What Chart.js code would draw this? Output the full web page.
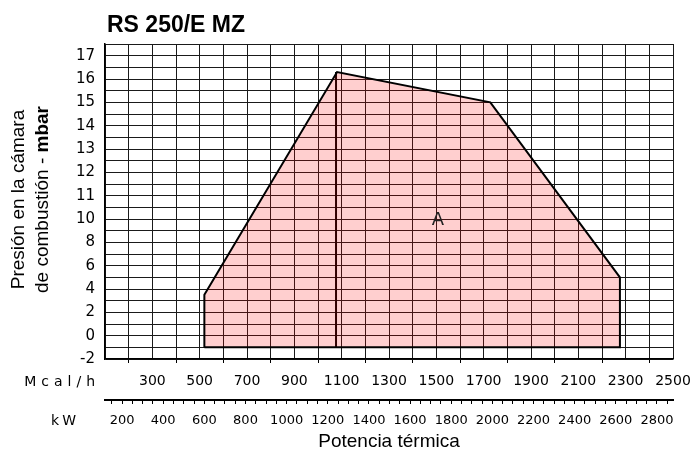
<!DOCTYPE html>
<html>
<head>
<meta charset="utf-8">
<title>RS 250/E MZ</title>
<script src="https://cdn.jsdelivr.net/npm/chart.js"></script>
<style>
    html, body { margin: 0; padding: 0; background: #fff; }
    .chart-box { position: relative; width: 691px; height: 459px; }
</style>
</head>
<body>
<div class="chart-box"><canvas id="rangeChart"></canvas></div>
<script>
// campo de trabajo del quemador: potencia (kW) / presión en cámara (mbar)
const chartTitle = 'RS 250/E MZ';
const workKW   = [600, 600, 1245, 1990, 2620, 2620, 600];
const workMbar = [-1, 3.5, 16.3, 15.0, 5.0, -1, -1];
// línea vertical interior
const splitKW   = [1240, 1240];
const splitMbar = [16.3, -1];

// eje Y no lineal: cada marca ocupa el mismo espacio
const yTickValues = [-2, 0, 2, 4, 6, 8, 10, 11, 12, 13, 14, 15, 16, 17];
const mcalLabels = [300, 500, 700, 900, 1100, 1300, 1500, 1700, 1900, 2100, 2300, 2500];
const kwLabels = [200, 400, 600, 800, 1000, 1200, 1400, 1600, 1800, 2000, 2200, 2400, 2600, 2800];

const mcalMin = 100, mcalMax = 2500;
const kwMin = 117, kwMax = 2878;
const labelA = { kw: 1735, mbar: 9.9 };

const gridColor = '#1a1a1a';
const thinFont = 'DejaVu Sans';

// mbar -> posición en el eje (índice de marca)
function toAxis(v) {
    for (let i = 0; i < yTickValues.length - 1; i++) {
        const a = yTickValues[i], b = yTickValues[i + 1];
        if (v <= b || i === yTickValues.length - 2) return i + (v - a) / (b - a);
    }
}

const textPlugin = {
    id: 'textPlugin',
    afterDraw(chart) {
        const ctx = chart.ctx;
        const area = chart.chartArea;
        ctx.save();
        ctx.fillStyle = '#000';

        // título
        ctx.font = 'bold 23px "Liberation Sans", Arial, sans-serif';
        ctx.textAlign = 'left';
        ctx.textBaseline = 'alphabetic';
        ctx.fillText(chartTitle, 107, 32);

        // título del eje Y en dos líneas
        const cy = (area.top + area.bottom) / 2 - 2;
        const reg = '19px "Liberation Sans", Arial, sans-serif';
        const bold = 'bold 19px "Liberation Sans", Arial, sans-serif';
        ctx.save();
        ctx.translate(24, cy);
        ctx.rotate(-Math.PI / 2);
        ctx.font = reg;
        ctx.textAlign = 'center';
        ctx.fillText('Presión en la cámara', 0, 0);
        ctx.restore();

        ctx.save();
        ctx.translate(48, cy);
        ctx.rotate(-Math.PI / 2);
        ctx.textAlign = 'left';
        const part1 = 'de combustión - ';
        const part2 = 'mbar';
        ctx.font = reg;
        const w1 = ctx.measureText(part1).width;
        ctx.font = bold;
        const w2 = ctx.measureText(part2).width;
        const x0 = -(w1 + w2) / 2;
        ctx.font = reg;
        ctx.fillText(part1, x0, 0);
        ctx.font = bold;
        ctx.fillText(part2, x0 + w1, 0);
        ctx.restore();

        // nombres de unidades a la izquierda
        ctx.font = '14px "' + thinFont + '"';
        ctx.textAlign = 'right';
        ctx.textBaseline = 'middle';
        if ('letterSpacing' in ctx) ctx.letterSpacing = '5px';
        ctx.fillText('Mcal/h', 100, 382);
        if ('letterSpacing' in ctx) ctx.letterSpacing = '3px';
        ctx.fillText('kW', 79, 421);
        if ('letterSpacing' in ctx) ctx.letterSpacing = '0px';

        // etiqueta A
        const xs = chart.scales.kw, ys = chart.scales.y;
        ctx.font = '18px "' + thinFont + '"';
        ctx.textAlign = 'center';
        ctx.fillStyle = '#222';
        ctx.fillText('A', xs.getPixelForValue(labelA.kw), ys.getPixelForValue(toAxis(labelA.mbar)));
        ctx.restore();
    }
};

const ctx = document.getElementById('rangeChart').getContext('2d');
new Chart(ctx, {
    type: 'scatter',
    data: {
        datasets: [
            {
                data: workKW.map((k, i) => ({ x: k, y: toAxis(workMbar[i]) })),
                xAxisID: 'kw',
                yAxisID: 'y',
                showLine: true,
                fill: 'shape',
                backgroundColor: 'rgba(255, 0, 0, 0.19)',
                borderColor: '#000',
                borderWidth: 2,
                pointRadius: 0,
                tension: 0
            },
            {
                data: splitKW.map((k, i) => ({ x: k, y: toAxis(splitMbar[i]) })),
                xAxisID: 'kw',
                yAxisID: 'y',
                showLine: true,
                fill: false,
                borderColor: '#000',
                borderWidth: 2,
                pointRadius: 0
            }
        ]
    },
    options: {
        responsive: true,
        maintainAspectRatio: false,
        animation: false,
        layout: { padding: { left: 0, right: 18, top: 44, bottom: 0 } },
        plugins: {
            legend: { display: false },
            tooltip: { enabled: false },
            title: { display: false }
        },
        scales: {
            x: {
                type: 'linear',
                position: 'bottom',
                min: mcalMin,
                max: mcalMax,
                afterBuildTicks: s => {
                    s.ticks = [];
                    for (let v = mcalMin; v <= mcalMax; v += 100) s.ticks.push({ value: v });
                },
                afterFit: s => { s.height = 41; s.paddingLeft = 0; s.paddingRight = 0; },
                grid: {
                    color: gridColor,
                    lineWidth: 1,
                    tickLength: 4,
                    tickColor: c => (c.tick && c.tick.value % 200 === 0) ? '#000' : 'rgba(0,0,0,0)'
                },
                border: { display: true, color: '#000', width: 1.5 },
                ticks: {
                    autoSkip: false,
                    maxRotation: 0,
                    minRotation: 0,
                    padding: 10,
                    color: '#000',
                    font: { family: thinFont, size: 14 },
                    callback: v => mcalLabels.includes(v) ? String(v) : ''
                }
            },
            kw: {
                type: 'linear',
                position: 'bottom',
                weight: 1,
                min: kwMin,
                max: kwMax,
                afterBuildTicks: s => {
                    s.ticks = [];
                    for (let v = 150; v <= 2850; v += 50) s.ticks.push({ value: v });
                },
                afterFit: s => { s.height = 59; s.paddingLeft = 0; s.paddingRight = 0; },
                grid: {
                    display: true,
                    drawOnChartArea: false,
                    color: '#000',
                    tickColor: '#000',
                    tickLength: 4
                },
                border: { display: true, color: '#000', width: 2 },
                ticks: {
                    autoSkip: false,
                    maxRotation: 0,
                    minRotation: 0,
                    padding: 9,
                    color: '#000',
                    font: { family: thinFont, size: 13 },
                    callback: v => kwLabels.includes(v) ? String(v) : ''
                },
                title: {
                    display: true,
                    text: 'Potencia térmica',
                    color: '#000',
                    font: { family: 'Liberation Sans', size: 19 },
                    padding: { top: 0, bottom: 6 }
                }
            },
            y: {
                type: 'linear',
                min: 0,
                max: 13.5,
                afterBuildTicks: s => {
                    s.ticks = [];
                    for (let u = 0; u <= 13.5; u += 0.5) s.ticks.push({ value: u });
                },
                afterFit: s => { s.width = 105; s.paddingTop = 0; s.paddingBottom = 0; },
                grid: { color: gridColor, lineWidth: 1, drawTicks: false },
                border: { display: true, color: '#000', width: 1.5 },
                ticks: {
                    autoSkip: false,
                    padding: 10,
                    color: '#000',
                    font: { family: thinFont, size: 15 },
                    callback: v => (Number.isInteger(v) && v < yTickValues.length) ? String(yTickValues[v]) : ''
                }
            }
        }
    },
    plugins: [textPlugin]
});
</script>
</body>
</html>
